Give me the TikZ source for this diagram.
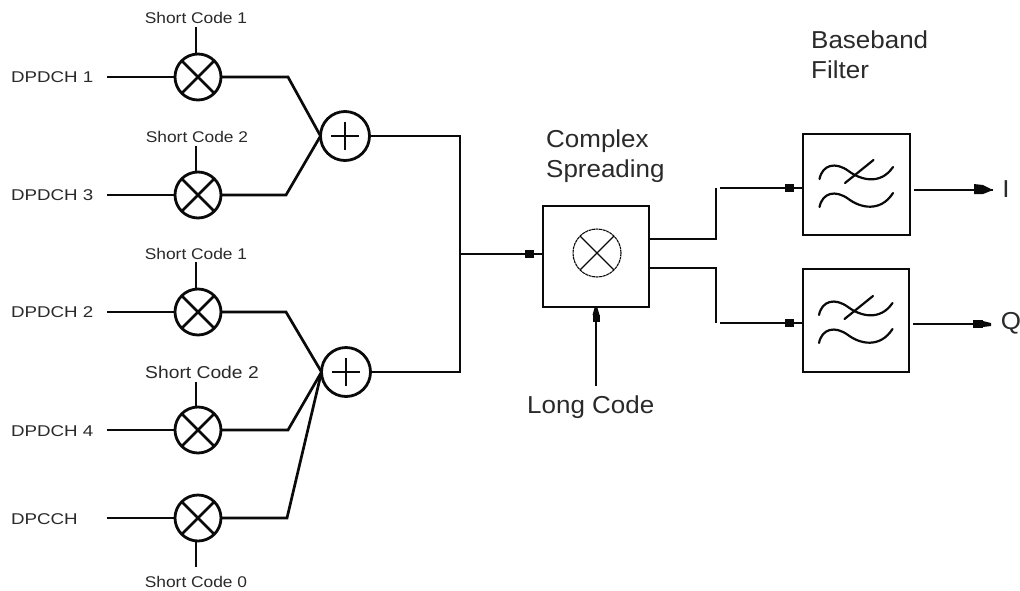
\documentclass[tikz,border=0pt]{standalone}
\usepackage{fontspec}
\usetikzlibrary{arrows.meta,decorations.markings}
\newfontfamily\smallfam[FakeStretch=1.12]{Liberation Sans}
\newfontfamily\inputfam[FakeStretch=1.2]{Liberation Sans}
\newfontfamily\bigfam[FakeStretch=1.06]{Liberation Sans}
\definecolor{ink}{HTML}{0A0A0A}
\definecolor{txt}{HTML}{2A2A2A}
\tikzset{
  x=1pt,y=-1pt,
  wire/.style={line width=2.7pt,draw=ink,line join=miter},
  mixer/.style={circle,draw=ink,line width=2.8pt,minimum size=46pt,inner sep=0pt,outer sep=0pt,
    path picture={\draw[line width=2.6pt,ink] (path picture bounding box.center)+(45:23pt)--+(225:23pt)
      (path picture bounding box.center)+(135:23pt)--+(315:23pt);}},
  adder/.style={circle,draw=ink,line width=2.8pt,minimum size=49pt,inner sep=0pt,outer sep=0pt,
    path picture={\draw[line width=2.6pt,ink] (path picture bounding box.center)+(-14pt,0)--+(14pt,0)
      (path picture bounding box.center)+(0,-14pt)--+(0,14pt);}},
  thinmixer/.style={circle,draw=ink,line width=1.1pt,dash pattern=on 3pt off 0.6pt,minimum size=48pt,inner sep=0pt,outer sep=0pt,
    path picture={\draw[line width=1.2pt,solid,ink] (path picture bounding box.center)+(45:24pt)--+(225:24pt)
      (path picture bounding box.center)+(135:24pt)--+(315:24pt);}},
  block/.style={rectangle,draw=ink,line width=2.7pt,inner sep=0pt,outer sep=0pt},
  smalltxt/.style={font=\smallfam\fontsize{15.5}{17}\selectfont,text=txt,inner sep=0pt},
  inputtxt/.style={font=\inputfam\fontsize{15.6}{17}\selectfont,text=txt,inner sep=0pt,anchor=west},
  bigtxt/.style={font=\bigfam\fontsize{24.5}{30}\selectfont,text=txt,inner sep=0pt,align=left},
  blockmark/.style={postaction={decorate,decoration={markings,
     mark=at position #1 with {\fill[ink] (-4.5pt,-4pt) rectangle (4.5pt,4pt);}}}},
  wave/.style={line width=2.2pt,draw=ink,line cap=round}
}
\begin{document}
\begin{tikzpicture}
\fill[white] (0,0) rectangle (1020,590);
\useasboundingbox (0,0) rectangle (1020,590);

% mixers
\node[mixer] (m1) at (198,77) {};
\node[mixer] (m2) at (198,195) {};
\node[mixer] (m3) at (198,312) {};
\node[mixer] (m4) at (198,430) {};
\node[mixer] (m5) at (198,518) {};
% adders
\node[adder] (a1) at (345,136) {};
\node[adder] (a2) at (346,372) {};
% blocks
\node[block,minimum width=106pt,minimum height=101pt] (cs) at (596,256.5) {};
\node[thinmixer] (csm) at (597,253) {};
\node[block,minimum width=107pt,minimum height=101pt] (f1) at (856.5,184.5) {};
\node[block,minimum width=106pt,minimum height=103pt] (f2) at (856,320.5) {};

% labels
\node[inputtxt] (d1) at (11,77.5) {DPDCH 1};
\node[inputtxt] (d3) at (11,195.5) {DPDCH 3};
\node[inputtxt] (d2) at (11,312.5) {DPDCH 2};
\node[inputtxt] (d4) at (11,431) {DPDCH 4};
\node[inputtxt] (dc) at (11,519) {DPCCH};
\node[smalltxt] (s1) at (196,18) {Short Code 1};
\node[smalltxt] (s2) at (197,137) {Short Code 2};
\node[smalltxt] (s3) at (196,253.5) {Short Code 1};
\node[smalltxt,font=\smallfam\fontsize{17.2}{18}\selectfont] (s4) at (202,372) {Short Code 2};
\node[smalltxt] (s0) at (196,582) {Short Code 0};
\node[bigtxt,anchor=north west] (tcs) at (546,130) {Complex\\Spreading};
\node[bigtxt,anchor=north west] (tbf) at (811,31) {Baseband\\Filter};
\node[bigtxt,anchor=west] (tlc) at (527,407) {Long Code};
\node[bigtxt] (ti) at (1006,189) {I};
\node[bigtxt] (tq) at (1011,323) {Q};

% input stubs and short-code stubs
\foreach \m/\yy in {m1/77,m2/195,m3/312,m4/430,m5/518}{
  \coordinate (in\m) at (107,\yy);
  \draw[wire] (in\m) -- (\m.west);
}
\coordinate (c1) at (196,27);
\coordinate (c2) at (196,146);
\coordinate (c3) at (196,262);
\coordinate (c4) at (196,382);
\coordinate (c0) at (196,567);
\draw[wire] (c1) -- (196,54);
\draw[wire] (c2) -- (196,172);
\draw[wire] (c3) -- (196,289);
\draw[wire] (c4) -- (196,407);
\draw[wire] (c0) -- (196,541);

% mixer to adder
\draw[wire] (m1.east) -- (288,77) -- (a1.west);
\draw[wire] (m2.east) -- (286,195) -- (a1.west);
\draw[wire] (m3.east) -- (286,312) -- (a2.west);
\draw[wire] (m4.east) -- (288,430) -- (a2.west);
\draw[wire] (m5.east) -- (287,518) -- (a2.west);

% adder outputs to complex spreading
\coordinate (join) at (460,254);
\draw[wire] (a1.east) -- (460,136) -- (join);
\draw[wire] (a2.east) -- (460,372) -- (join);
\draw[wire,blockmark=0.84] (join) -- (cs.west |- join);

% long code
\coordinate (lcs) at (596,386);
\draw[wire] (lcs) -- (cs.south);
\fill[ink] (592.5,315) -- (599.5,315) -- (597.5,308) -- (594.5,308) -- cycle;
\fill[ink] (592.5,315) rectangle (599.5,322);

% complex spreading outputs
\coordinate (o1) at (716,188);
\coordinate (o2) at (716,323);
\coordinate (i1) at (720,188);
\coordinate (i2) at (720,323);
\draw[wire] (cs.east |- 0,239) -- (716,239) -- (o1);
\draw[wire] (cs.east |- 0,268) -- (716,268) -- (o2);
\draw[wire,blockmark=0.84] (i1) -- (f1.west |- i1);
\draw[wire,blockmark=0.84] (i2) -- (f2.west |- i2);

% filter outputs
\coordinate (e1) at (914,190);
\coordinate (e2) at (913,324);
\coordinate (t1) at (993,190);
\coordinate (t2) at (991,324);
\draw[wire] (e1) -- (t1);
\draw[wire] (e2) -- (t2);
\fill[ink] (974,184) -- (983,185) -- (993,190) -- (983,194) -- (974,194) -- cycle;
\fill[ink] (973,320) rectangle (983,328);
\fill[ink] (983,321) -- (991,323) -- (991,326) -- (983,327) -- cycle;

% filter glyphs
\foreach \f in {f1,f2}{
  \begin{scope}[shift={(\f.center)}]
    \draw[wave] (-37,-5.5) .. controls (-34,-20) and (-21,-23) .. (-8,-13.5)
       .. controls (4,-4.5) and (24,1) .. (36.5,-17.5);
    \draw[wave] (-37,22.5) .. controls (-34,8) and (-21,5) .. (-8,14.5)
       .. controls (4,23.5) and (24,28) .. (36.5,8.5);
    \draw[wave] (-11.5,-1.5) -- (17,-24.5);
  \end{scope}
}
\end{tikzpicture}
\end{document}
